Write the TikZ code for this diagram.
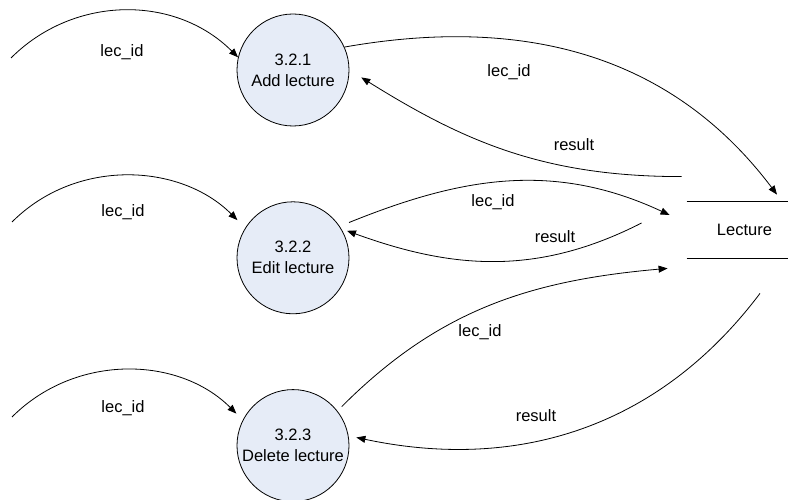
\documentclass[tikz,border=0pt]{standalone}
\usepackage{fontspec}
\setmainfont{Liberation Sans}
\usetikzlibrary{arrows.meta,positioning}
\definecolor{procfill}{HTML}{E6ECF7}

\begin{document}
\begin{tikzpicture}[
    x = 1pt, y = 1pt, % one unit per pixel
    > = {Triangle[length=9pt,width=7pt]}, % arrow head style
    shorten > = 0pt,
    node distance = 75pt, % gap between the processes
    line width = 0.8pt, % line style
    font = \fontsize{16.5}{21}\selectfont
    ]

    \tikzset{process/.style={
    circle,
    draw = black,
    fill = procfill,
    minimum size = 112pt,
    inner sep = 0pt,
    align = center
    }}
    \tikzset{datastore/.style={minimum width = 115pt, minimum height = 56pt, inner sep = 0pt}}
    \tikzset{flowlabel/.style={inner sep = 0pt}}

    \useasboundingbox (0,0) rectangle (788,500);

    \node[process] (p1) at (293,430) {3.2.1\\Add lecture};
    \node[process] (p2) [below=of p1] {3.2.2\\Edit lecture};
    \node[process] (p3) [below=of p2] {3.2.3\\Delete lecture};
    \node[datastore] (lec) at (744.5,270) {Lecture};
    \draw (lec.north west) -- (lec.north east);
    \draw (lec.south west) -- (lec.south east);

    \coordinate (s1) at (11,442);
    \coordinate (s2) at (12,278);
    \coordinate (s3) at (12,83);

    % incoming flows
    \path[->] (s1) edge[out=45, in=135] (p1.167);
    \path[->] (s2) edge[out=45, in=135, shorten >=11pt] (p2.148);
    \path[->] (s3) edge[out=45, in=135, shorten >=9pt] (p3.153);

    % flows to and from the store
    \path[->] (p1.24) edge[out=10, in=127] ([shift={(32.5,7)}]lec.north);
    \path[->] ([shift={(-5,25)}]lec.north west) edge[out=180, in=-32, shorten >=14pt] (p1.0);
    \path[->] (p2.34) edge[out=22, in=155, shorten <=10pt] ([shift={(-17,15)}]lec.west);
    \path[->] ([shift={(-45,7)}]lec.west) edge[out=207, in=-20, shorten >=6pt] (p2.31);
    \path[->] (p3.38) edge[out=45, in=185, shorten <=6pt] ([shift={(-19,-10)}]lec.south west);
    \path[->] ([shift={(15.5,-35)}]lec.south) edge[out=233, in=-12, shorten >=8pt] (p3.10);

    \node[flowlabel] (t1) at (122,448) {lec\_id};
    \node[flowlabel] (t2) at (123,288) {lec\_id};
    \node[flowlabel] (t3) at (123,92) {lec\_id};
    \node[flowlabel] (t4) at (509,428) {lec\_id};
    \node[flowlabel] (t5) at (574,355) {result};
    \node[flowlabel] (t6) at (493,298) {lec\_id};
    \node[flowlabel] (t7) at (555,263) {result};
    \node[flowlabel] (t8) at (480,168) {lec\_id};
    \node[flowlabel] (t9) at (536,84) {result};
\end{tikzpicture}
\end{document}
